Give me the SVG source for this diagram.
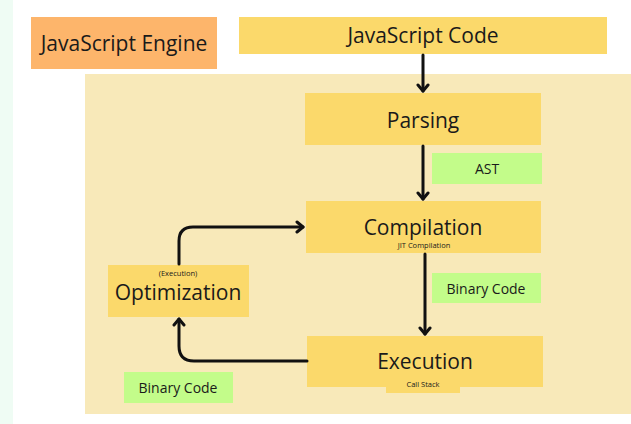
<svg xmlns="http://www.w3.org/2000/svg" width="631" height="424" viewBox="0 0 631 424">
<defs>
<style>
.t{font-family:"Open Sans","Noto Sans","Liberation Sans",sans-serif;fill:#1a1a1a;text-anchor:middle;dominant-baseline:central}
.big{font-size:21px}
.mid{font-size:14px}
.sm{font-size:7.5px}
.y{fill:#fbd96b}
.g{fill:#c3fc8a}
.c{fill:none;stroke:#111;stroke-width:3;stroke-linecap:round;stroke-linejoin:round}
</style>
<marker id="ah" markerUnits="userSpaceOnUse" markerWidth="14" markerHeight="14" viewBox="-1 -7 10 14" refX="7" refY="0" orient="auto">
<path d="M1,-5 L7,0 L1,5" fill="none" stroke="#111" stroke-width="3" stroke-linecap="round" stroke-linejoin="round"/>
</marker>
</defs>
<rect x="0" y="0" width="631" height="424" fill="#ffffff"/>
<rect x="0" y="0" width="13" height="424" fill="#effcf4"/>
<rect x="85" y="74" width="546" height="340" fill="#f8e9b9"/>
<g id="engine">
<rect x="31" y="17" width="186" height="52" fill="#fdb56b"/>
<text class="t big" x="124" y="43">JavaScript Engine</text>
</g>
<g id="code">
<rect class="y" x="239" y="17" width="368" height="37"/>
<text class="t big" x="423" y="35">JavaScript Code</text>
</g>
<g id="parsing">
<rect class="y" x="305" y="93" width="236" height="52"/>
<text class="t big" x="423" y="120">Parsing</text>
</g>
<g id="ast">
<rect class="g" x="432" y="153" width="110" height="31"/>
<text class="t mid" x="487" y="168">AST</text>
</g>
<g id="compilation">
<rect class="y" x="306" y="201" width="235" height="52"/>
<text class="t big" x="423" y="227">Compilation</text>
<text class="t sm" x="424" y="245">JIT Compilation</text>
</g>
<g id="binary1">
<rect class="g" x="432" y="273" width="109" height="30"/>
<text class="t mid" x="486" y="288">Binary Code</text>
</g>
<g id="execution">
<rect class="y" x="386" y="380" width="74" height="13"/>
<rect class="y" x="307" y="336" width="236" height="51"/>
<text class="t big" x="425" y="361">Execution</text>
<text class="t sm" x="423" y="384">Call Stack</text>
</g>
<g id="optimization">
<rect class="y" x="108" y="265" width="141" height="52"/>
<text class="t sm" x="178" y="273">(Execution)</text>
<text class="t big" x="178" y="292">Optimization</text>
</g>
<g id="binary2">
<rect class="g" x="124" y="372" width="109" height="31"/>
<text class="t mid" x="178" y="387">Binary Code</text>
</g>
<g id="connectors">
<path class="c" d="M423,55 V91" marker-end="url(#ah)"/>
<path class="c" d="M423,146 V199" marker-end="url(#ah)"/>
<path class="c" d="M425,254 V334" marker-end="url(#ah)"/>
<path class="c" d="M179,264 V241 Q179,227 193,227 H303" marker-end="url(#ah)"/>
<path class="c" d="M307,361 H194 Q179,361 179,346 V319" marker-end="url(#ah)"/>
</g>
</svg>
